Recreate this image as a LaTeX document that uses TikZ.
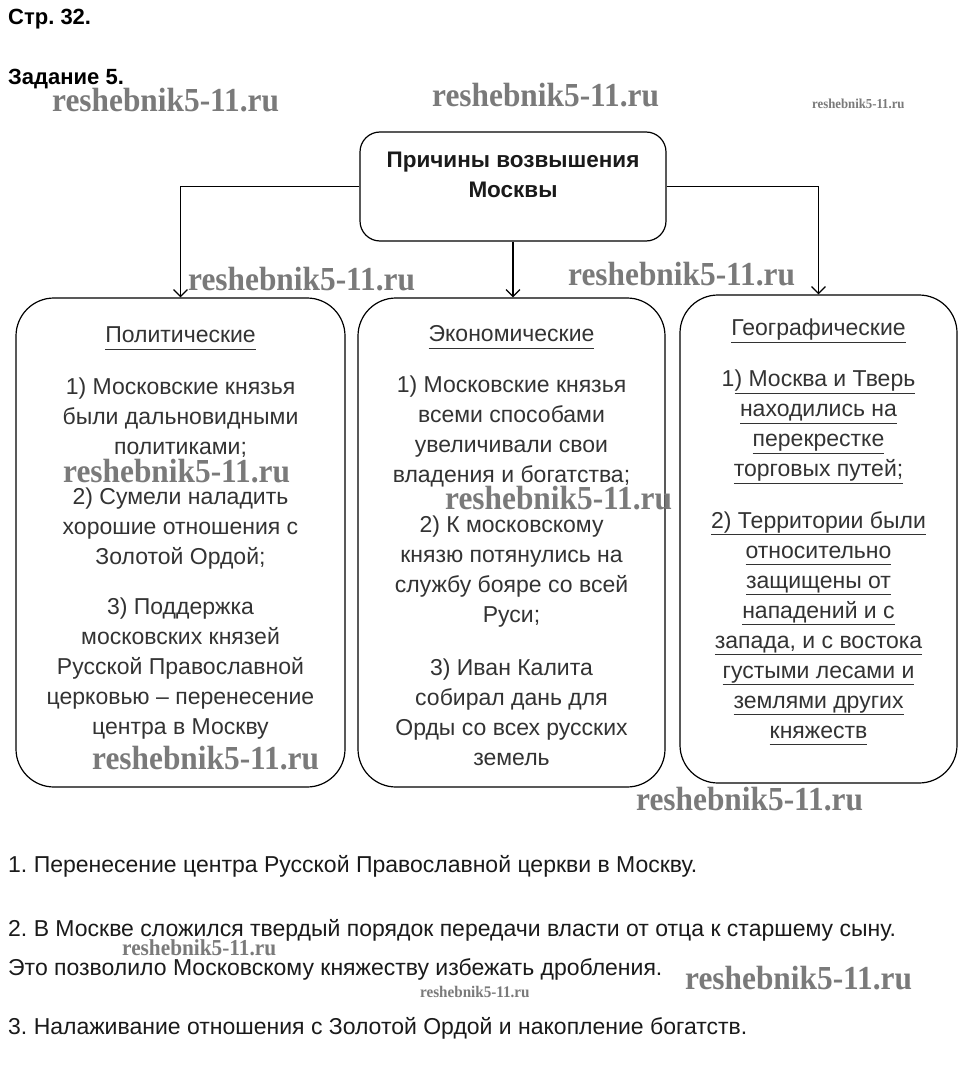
\documentclass[tikz,border=0pt]{standalone}
\usepackage{fontspec}
\setmainfont{Liberation Sans}
\newfontfamily\wmfont{Liberation Serif}
\usetikzlibrary{arrows.meta}
\definecolor{txt}{HTML}{333333}
\definecolor{dark}{HTML}{1A1A1A}
\definecolor{wmc}{HTML}{7A7A7A}
\newcommand\wmk[1]{{\fontsize{#1}{#1}\selectfont\scalebox{1.12}[1.2]{reshebnik5-11.ru}}}
\newcommand\myul[1]{\underline{#1\vphantom{ру}}}
\frenchspacing
\begin{document}
\begin{tikzpicture}[x=1pt,y=-1pt,
  box/.style={draw=black, line width=1.2pt, rounded corners=38pt, inner sep=0pt},
  bt/.style={font=\fontsize{23}{30}\selectfont, text=txt, align=center, inner sep=0pt},
  plain/.style={font=\fontsize{23}{26}\selectfont, text=dark, anchor=west, inner sep=0pt},
  head/.style={font=\bfseries\fontsize{22}{24}\selectfont, text=black, anchor=west, inner sep=0pt},
  wm/.style={font=\wmfont\bfseries, text=wmc, anchor=west, inner sep=0pt},
  arr/.style={line width=1.2pt, -{Straight Barb[length=7pt,width=14pt,line width=1.2pt]}}
]
\useasboundingbox (0,0) rectangle (966,1091);
\fill[white] (0,0) rectangle (966,1091);

% headers
\node[head] (h1) at (8,19) {Стр. 32.};
\node[head] (h2) at (8,79) {Задание 5.};

% boxes
\node[box, rounded corners=20pt, minimum width=306pt, minimum height=109pt] (top) at (513,186.5) {};
\node[font=\bfseries\fontsize{22.5}{30}\selectfont, text=dark, align=center, inner sep=0pt] (toptext) at (513,175) {Причины возвышения\\Москвы};

\node[box, minimum width=329pt, minimum height=489pt] (pol) at (180.5,542.5) {};
\node[box, minimum width=307pt, minimum height=489pt] (eco) at (511.5,542.5) {};
\node[box, minimum width=277pt, minimum height=488pt] (geo) at (818.5,539) {};

% connectors
\draw[arr] (top.west) -| (pol.north);
\draw[arr] (top.east) -| (geo.north);
\draw[arr] (top.south) -- (top.south |- eco.north);

% political
\node[bt] (polt) at (180.5,338) {\myul{Политические}};
\node[bt] (pol1) at (180.5,418) {1) Московские князья\\были дальновидными\\политиками;};
\node[bt] (pol2) at (180.5,529) {2) Сумели наладить\\хорошие отношения с\\Золотой Ордой;};
\node[bt] (pol3) at (180.5,669) {3) Поддержка\\московских князей\\Русской Православной\\церковью – перенесение\\центра в Москву};

% economic
\node[bt] (ecot) at (511.5,337) {\myul{Экономические}};
\node[bt] (eco1) at (511.5,431) {1) Московские князья\\всеми способами\\увеличивали свои\\владения и богатства;};
\node[bt] (eco2) at (511.5,572) {2) К московскому\\князю потянулись на\\службу бояре со всей\\Руси;};
\node[bt] (eco3) at (511.5,712) {3) Иван Калита\\собирал дань для\\Орды со всех русских\\земель};

% geographic
\node[bt] (geot) at (818.5,331) {\myul{Географические}};
\node[bt] (geo1) at (818.5,427) {1\myul{) Москва и Тверь}\\\myul{находились на}\\\myul{перекрестке}\\\myul{торговых путей;}};
\node[bt] (geo2) at (818.5,628) {\myul{2) Территории были}\\\myul{относительно}\\\myul{защищены от}\\\myul{нападений и с}\\\myul{запада, и с востока}\\\myul{густыми лесами и}\\\myul{землями других}\\\myul{княжеств}};

% bottom text
\node[plain] (b1) at (8,866) {1. Перенесение центра Русской Православной церкви в Москву.};
\node[plain] (b2) at (8,930) {2. В Москве сложился твердый порядок передачи власти от отца к старшему сыну.};
\node[plain] (b3) at (8,969) {Это позволило Московскому княжеству избежать дробления.};
\node[plain] (b4) at (8,1028) {3. Налаживание отношения с Золотой Ордой и накопление богатств.};

% watermarks
\node[wm] (w1) at (52,100) {\wmk{28}};
\node[wm] (w2) at (432,95) {\wmk{28}};
\node[wm] (w3) at (812,104) {\wmk{11.4}};
\node[wm] (w4) at (188,279) {\wmk{28}};
\node[wm] (w5) at (568,274) {\wmk{28}};
\node[wm] (w6) at (63,471) {\wmk{28}};
\node[wm] (w7) at (445,498) {\wmk{28}};
\node[wm] (w8) at (92,758) {\wmk{28}};
\node[wm] (w9) at (636,799) {\wmk{28}};
\node[wm] (w10) at (122,948) {\wmk{19}};
\node[wm] (w11) at (420,992) {\wmk{13.5}};
\node[wm] (w12) at (685,978) {\wmk{28}};
\end{tikzpicture}
\end{document}
